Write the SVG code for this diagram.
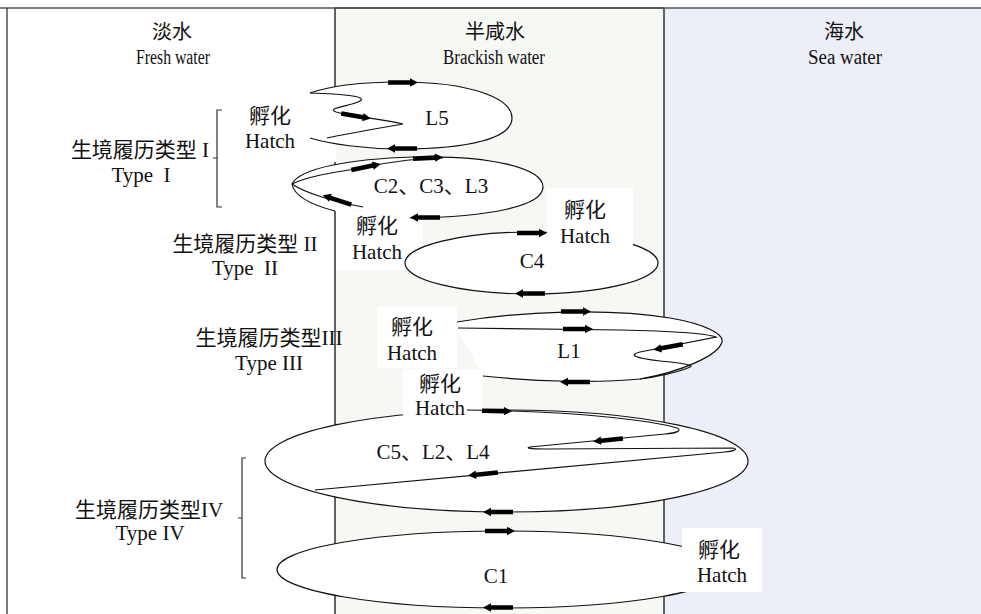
<svg xmlns="http://www.w3.org/2000/svg" xmlns:xlink="http://www.w3.org/1999/xlink" width="981" height="614" viewBox="0 0 981 614">
<style>
.t{font-family:'Liberation Serif','Noto Sans CJK SC',serif;font-size:21px;fill:#111;text-anchor:middle}
.h{font-family:'Liberation Serif','Noto Sans CJK SC',serif;font-size:20px;fill:#111;text-anchor:middle}
.hc{font-family:'Liberation Serif','Noto Sans CJK SC',serif;font-size:20px;fill:#111;text-anchor:middle}
.ln{fill:none;stroke:#111;stroke-width:1.2}
.fl{fill:#fff;stroke:none}
.el{fill:#fff;stroke:#111;stroke-width:1.2}
.box{fill:#fff;stroke:none}
.br{fill:none;stroke:#333;stroke-width:1.2}
</style>
<defs>
<path id="ar" d="M-15,-2.3 L7,-2.3 L7,-4.2 L15,0 L7,4.2 L7,2.3 L-15,2.3 Z" fill="#000"/>
</defs>
<g id="background">
<rect x="0" y="0" width="981" height="614" fill="#fff"/>
<rect x="664" y="8" width="320" height="610" fill="#eceff8"/>
<rect x="335" y="8" width="329" height="620" fill="#f6f8f3" stroke="#111" stroke-width="1.3"/>
<line x1="0" y1="8" x2="981" y2="8" stroke="#555" stroke-width="1.5"/>
<line x1="7" y1="8" x2="7" y2="614" stroke="#333" stroke-width="1.3"/>
</g>
<g id="headers">
<text class="hc" x="172" y="39">淡水</text>
<text class="h" x="173" y="64" textLength="74" lengthAdjust="spacingAndGlyphs">Fresh water</text>
<text class="hc" x="495" y="39">半咸水</text>
<text class="h" x="494" y="64" textLength="102" lengthAdjust="spacingAndGlyphs">Brackish water</text>
<text class="hc" x="844" y="39">海水</text>
<text class="h" x="845" y="64" textLength="74" lengthAdjust="spacingAndGlyphs">Sea water</text>
</g>
<g id="type-I">
<text class="t" x="140" y="157">生境履历类型 I</text>
<text class="t" x="141" y="182" xml:space="preserve">Type  I</text>
<path class="br" d="M222,110 H217 V207 H222 M217,158 H213"/>
</g>
<g id="type-II">
<text class="t" x="245" y="251">生境履历类型 II</text>
<text class="t" x="245" y="275" xml:space="preserve">Type  II</text>
</g>
<g id="type-III">
<text class="t" x="269" y="345">生境履历类型III</text>
<text class="t" x="269" y="370">Type III</text>
</g>
<g id="type-IV">
<text class="t" x="149" y="517">生境履历类型IV</text>
<text class="t" x="150" y="540">Type IV</text>
<path class="br" d="M246,458 H242 V578 H246 M242,518 H238"/>
</g>
<g id="hatch-1">
<rect class="box" x="240" y="96" width="96" height="66"/>
<text class="t" x="270" y="123">孵化</text>
<text class="t" x="270" y="148">Hatch</text>
</g>
<g id="hatch-2">
<rect class="box" x="336" y="211" width="87" height="59"/>
<text class="t" x="377" y="233">孵化</text>
<text class="t" x="377" y="259">Hatch</text>
</g>
<g id="loop-L5">
<path class="fl" d="M310,93 C330,86 360,82 400,82 C470,82 512,98 512,118 C512,138 470,149 400,149 C365,149 330,144 310,138 Z"/>
<path class="ln" d="M310,93 C330,86 360,82 400,82 C470,82 512,98 512,118 C512,138 470,149 400,149 C365,149 330,144 310,138"/>
<path class="ln" d="M310,93 C340,94 368,96 360,101 C352,106 325,108 336,112 C350,116 380,119 403,124 C380,128 345,134 327,138"/>
<text class="t" x="437" y="125">L5</text>
</g>
<g id="loop-C2">
<path class="fl" d="M292,184 C300,168 350,159 413,157 C490,155 543,168 543,187 C543,206 490,217 410,218 L363,210 L335,211 C312,205 294,196 292,184 Z"/>
<path class="ln" d="M292,184 C300,168 350,159 413,157 C490,155 543,168 543,187 C543,206 490,217 410,218"/>
<path class="ln" d="M292,184 C294,196 312,205 335,211"/>
<path class="ln" d="M292,184 C310,175 340,172 366,167 C395,161 420,158 443,158"/>
<path class="ln" d="M292,184 C305,193 335,202 363,207"/>
<text class="t" x="431" y="193">C2、C3、L3</text>
</g>
<g id="loop-C4">
<ellipse class="el" cx="531.5" cy="263" rx="126.5" ry="31"/>
<text class="t" x="532" y="268">C4</text>
</g>
<g id="hatch-3">
<rect class="box" x="547" y="188" width="86" height="57"/>
<text class="t" x="585" y="217">孵化</text>
<text class="t" x="585" y="243">Hatch</text>
</g>
<g id="loop-L1">
<path class="fl" d="M457,322 C520,311 610,308 670,318 C705,324 724,334 722,342 C718,356 680,372 640,379 C600,383 540,382 483,376 L457,328 Z"/>
<path class="ln" d="M457,322 C520,311 610,308 670,318 C705,324 724,334 722,342 C718,356 680,372 640,379"/>
<path class="ln" d="M458,328 L620,330 C670,331 705,333 716,337 L640,352 C628,355 635,358 660,361 C680,363 695,365 690,367 C680,372 655,377 640,379"/>
<path class="ln" d="M640,379 C600,383 540,382 483,376"/>
<text class="t" x="569" y="358">L1</text>
</g>
<g id="hatch-4">
<rect class="box" x="377" y="307" width="80" height="61"/>
<text class="t" x="412" y="334">孵化</text>
<text class="t" x="412" y="360">Hatch</text>
</g>
<g id="loop-C5">
<ellipse class="el" cx="506.5" cy="461" rx="241.5" ry="51"/>
</g>
<g id="hatch-5">
<rect class="box" x="403" y="369" width="79" height="49"/>
<text class="t" x="440" y="391">孵化</text>
<text class="t" x="440" y="415">Hatch</text>
</g>
<g id="loop-C5-path">
<path class="ln" d="M467,410 L512,411 C580,413 650,420 677,428 C682,430 678,433 665,434 L530,447 C525,448 530,449 545,449 L733,448 C738,449 735,451 725,452 L315,490"/>
<text class="t" x="433" y="459">C5、L2、L4</text>
</g>
<g id="loop-C1">
<ellipse class="el" cx="502" cy="569.5" rx="225" ry="38.5"/>
<text class="t" x="496" y="583">C1</text>
</g>
<g id="hatch-6">
<rect class="box" x="682" y="528" width="80" height="64"/>
<text class="t" x="719" y="557">孵化</text>
<text class="t" x="722" y="582">Hatch</text>
</g>
<g id="connectors">
<use xlink:href="#ar" transform="translate(403,82.5)"/>
<use xlink:href="#ar" transform="translate(356,116) rotate(10)"/>
<use xlink:href="#ar" transform="translate(402,148.5) rotate(180)"/>
<use xlink:href="#ar" transform="translate(428,158) rotate(-3)"/>
<use xlink:href="#ar" transform="translate(366,167) rotate(-12)"/>
<use xlink:href="#ar" transform="translate(337,200) rotate(198)"/>
<use xlink:href="#ar" transform="translate(425,217.5) rotate(180)"/>
<use xlink:href="#ar" transform="translate(532,233)"/>
<use xlink:href="#ar" transform="translate(530,293.5) rotate(180)"/>
<use xlink:href="#ar" transform="translate(576,311.5)"/>
<use xlink:href="#ar" transform="translate(578,329)"/>
<use xlink:href="#ar" transform="translate(668,347) rotate(169)"/>
<use xlink:href="#ar" transform="translate(575,382) rotate(180)"/>
<use xlink:href="#ar" transform="translate(497,411) rotate(1)"/>
<use xlink:href="#ar" transform="translate(608,440) rotate(174.5)"/>
<use xlink:href="#ar" transform="translate(483,474) rotate(174)"/>
<use xlink:href="#ar" transform="translate(498,512) rotate(180)"/>
<use xlink:href="#ar" transform="translate(500,531)"/>
<use xlink:href="#ar" transform="translate(498,607.5) rotate(180)"/>
</g>
</svg>
